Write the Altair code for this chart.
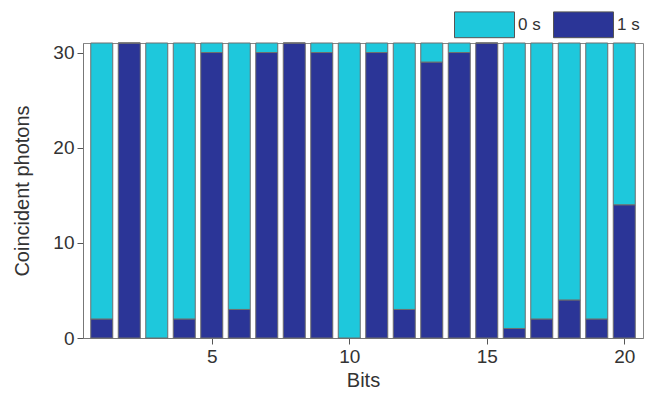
import altair as alt
import pandas as pd

bits = list(range(1, 21))
ones = [2, 31, 0, 2, 30, 3, 30, 31, 30, 0, 30, 3, 29, 30, 31, 1, 2, 4, 2, 14]
total = 31
zeros = [total - v for v in ones]

series = ["0 s", "1 s"]
colors = ["#1ec8dc", "#2b3597"]

rows = []
for b, o, z in zip(bits, ones, zeros):
    rows.append({"Bits": b, "Type": "1 s", "Count": o, "ord": 0})
    rows.append({"Bits": b, "Type": "0 s", "Count": z, "ord": 1})
df = pd.DataFrame(rows)

font = "Liberation Sans"

chart = alt.Chart(df).mark_bar(
    width=22, stroke="#6e6e6e", strokeWidth=1
).encode(
    x=alt.X("Bits:Q",
            scale=alt.Scale(domain=[0.5, 20.5], nice=False, zero=False),
            axis=alt.Axis(values=[5, 10, 15, 20], title="Bits", grid=False,
                          tickSize=6, labelFontSize=19, titleFontSize=20,
                          titleFontWeight="normal",
                          labelColor="#333", titleColor="#333",
                          domainColor="#777", tickColor="#555",
                          labelPadding=3, titlePadding=4)),
    y=alt.Y("Count:Q", stack="zero",
            scale=alt.Scale(domain=[0, 31], nice=False),
            axis=alt.Axis(values=[0, 10, 20, 30], title="Coincident photons",
                          grid=False, tickSize=6, labelFontSize=19,
                          titleFontSize=20, titleFontWeight="normal",
                          labelColor="#333",
                          titleColor="#333", domainColor="#777",
                          tickColor="#555", labelPadding=3, titlePadding=20)),
    color=alt.Color("Type:N",
                    scale=alt.Scale(domain=series, range=colors),
                    legend=alt.Legend(
                        title=None, orient="none", direction="horizontal",
                        legendX=371, legendY=-49,
                        symbolType="M-1,-0.43H1V0.43H-1Z",
                        symbolSize=3600, symbolStrokeColor="#555",
                        symbolStrokeWidth=1, symbolOpacity=1,
                        labelFontSize=17, labelColor="#333",
                        labelOffset=3, columnPadding=10, labelFont=font)),
    order=alt.Order("ord:Q"),
).properties(
    width=560, height=295,
    autosize=alt.AutoSizeParams(type="none"),
    padding={"left": 75, "top": 35, "right": 3, "bottom": 53},
).configure(font=font).configure_view(stroke="#888", strokeWidth=1)

chart.save("out.html", embed_options={"renderer": "svg", "actions": False})
